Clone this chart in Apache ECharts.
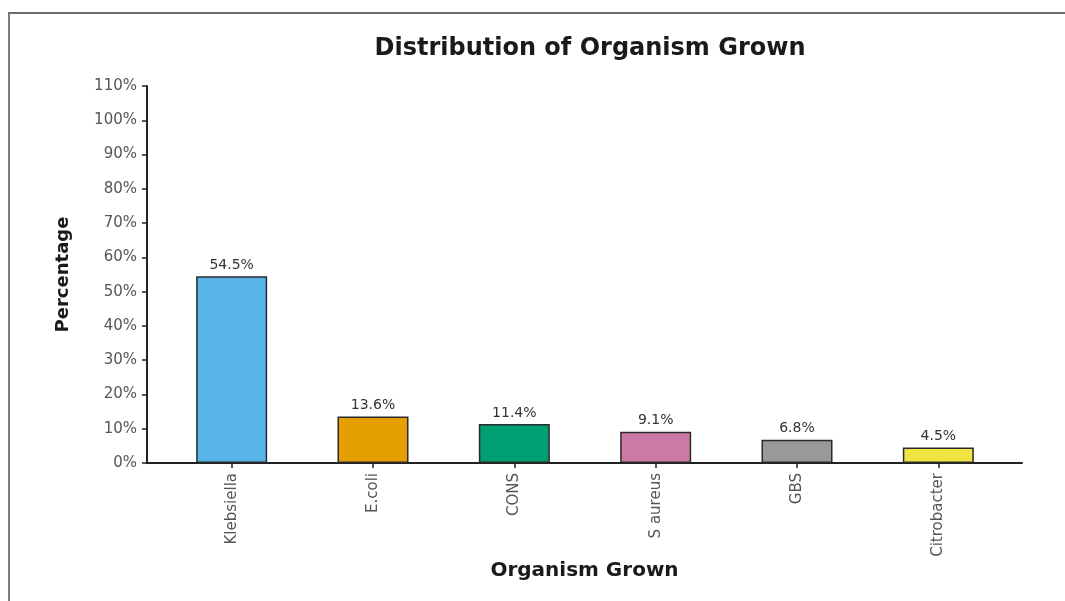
<!DOCTYPE html>
<html>
<head>
<meta charset="utf-8">
<script src="https://cdn.jsdelivr.net/npm/echarts@6/dist/echarts.min.js"></script>
<style>
    html, body { margin: 0; padding: 0; background: #fff; }
    #box { width: 1065px; height: 601px; position: relative; }
    #frame { position: absolute; left: 8px; top: 12px; right: 0; bottom: 0;
             border-top: 2px solid #6e6e6e; border-left: 2px solid #7a7a7a; pointer-events: none; }
</style>
</head>
<body>
<div id="box"></div>
<div id="frame"></div>
<script>
// data
var organisms = ['Klebsiella', 'E.coli', 'CONS', 'S aureus', 'GBS', 'Citrobacter'];
var percents = [54.5, 13.6, 11.4, 9.1, 6.8, 4.5];
var barColors = ['#56B4E9', '#E69F00', '#009E73', '#CC79A7', '#999999', '#F0E442'];
var yTicks = { min: 0, max: 110, step: 10 };

var myCharts = echarts.init(document.getElementById('box'));
var font = 'DejaVu Sans';

var barData = [];
for (var i = 0; i < percents.length; i++) {
    barData.push({
        value: percents[i],
        itemStyle: { color: barColors[i] }
    });
}

var option = {
    backgroundColor: 'transparent',
    title: {
        text: 'Distribution of Organism Grown',
        left: 585,
        textAlign: 'center',
        top: 32,
        textStyle: { fontFamily: font, fontSize: 24, fontWeight: 'bold', color: '#1a1a1a' }
    },
    grid: [
        { left: 147, right: 43, top: 86, bottom: 138 },
        { left: 161, right: 56, top: 86, bottom: 138 }
    ],
    xAxis: [
        {
            gridIndex: 0,
            type: 'category',
            data: [''],
            name: 'Organism Grown',
            nameLocation: 'middle',
            nameGap: 98,
            nameTextStyle: { fontFamily: font, fontSize: 20, fontWeight: 'bold', color: '#1a1a1a' },
            axisLine: { lineStyle: { color: '#222', width: 2 } },
            axisTick: { show: false },
            axisLabel: { show: false }
        },
        {
            gridIndex: 1,
            type: 'category',
            data: organisms,
            axisLine: { show: false },
            axisTick: { show: true, alignWithLabel: true, length: 5, lineStyle: { color: '#222', width: 1.5 } },
            axisLabel: {
                rotate: 90,
                margin: 10,
                fontFamily: font,
                fontSize: 15,
                color: '#555'
            }
        }
    ],
    yAxis: [
        {
            gridIndex: 0,
            type: 'value',
            min: yTicks.min,
            max: yTicks.max,
            interval: yTicks.step,
            name: 'Percentage',
            nameLocation: 'middle',
            nameGap: 75,
            nameTextStyle: { fontFamily: font, fontSize: 18, fontWeight: 'bold', color: '#1a1a1a' },
            axisLine: { show: true, lineStyle: { color: '#222', width: 2 } },
            axisTick: { show: true, length: 5, lineStyle: { color: '#222', width: 1.5 } },
            splitLine: { show: false },
            axisLabel: {
                formatter: '{value}%',
                margin: 10,
                fontFamily: font,
                fontSize: 15,
                color: '#555'
            }
        },
        {
            gridIndex: 1,
            type: 'value',
            min: yTicks.min,
            max: yTicks.max,
            interval: yTicks.step,
            show: false
        }
    ],
    series: [
        {
            name: 'Percentage',
            type: 'bar',
            xAxisIndex: 1,
            yAxisIndex: 1,
            barWidth: 71,
            data: barData,
            itemStyle: { borderColor: '#2a2a2a', borderWidth: 1.5 },
            label: {
                show: true,
                position: 'top',
                distance: 4,
                formatter: '{c}%',
                fontFamily: font,
                fontSize: 14,
                color: '#333'
            }
        }
    ]
};
myCharts.setOption(option);
</script>
</body>
</html>
